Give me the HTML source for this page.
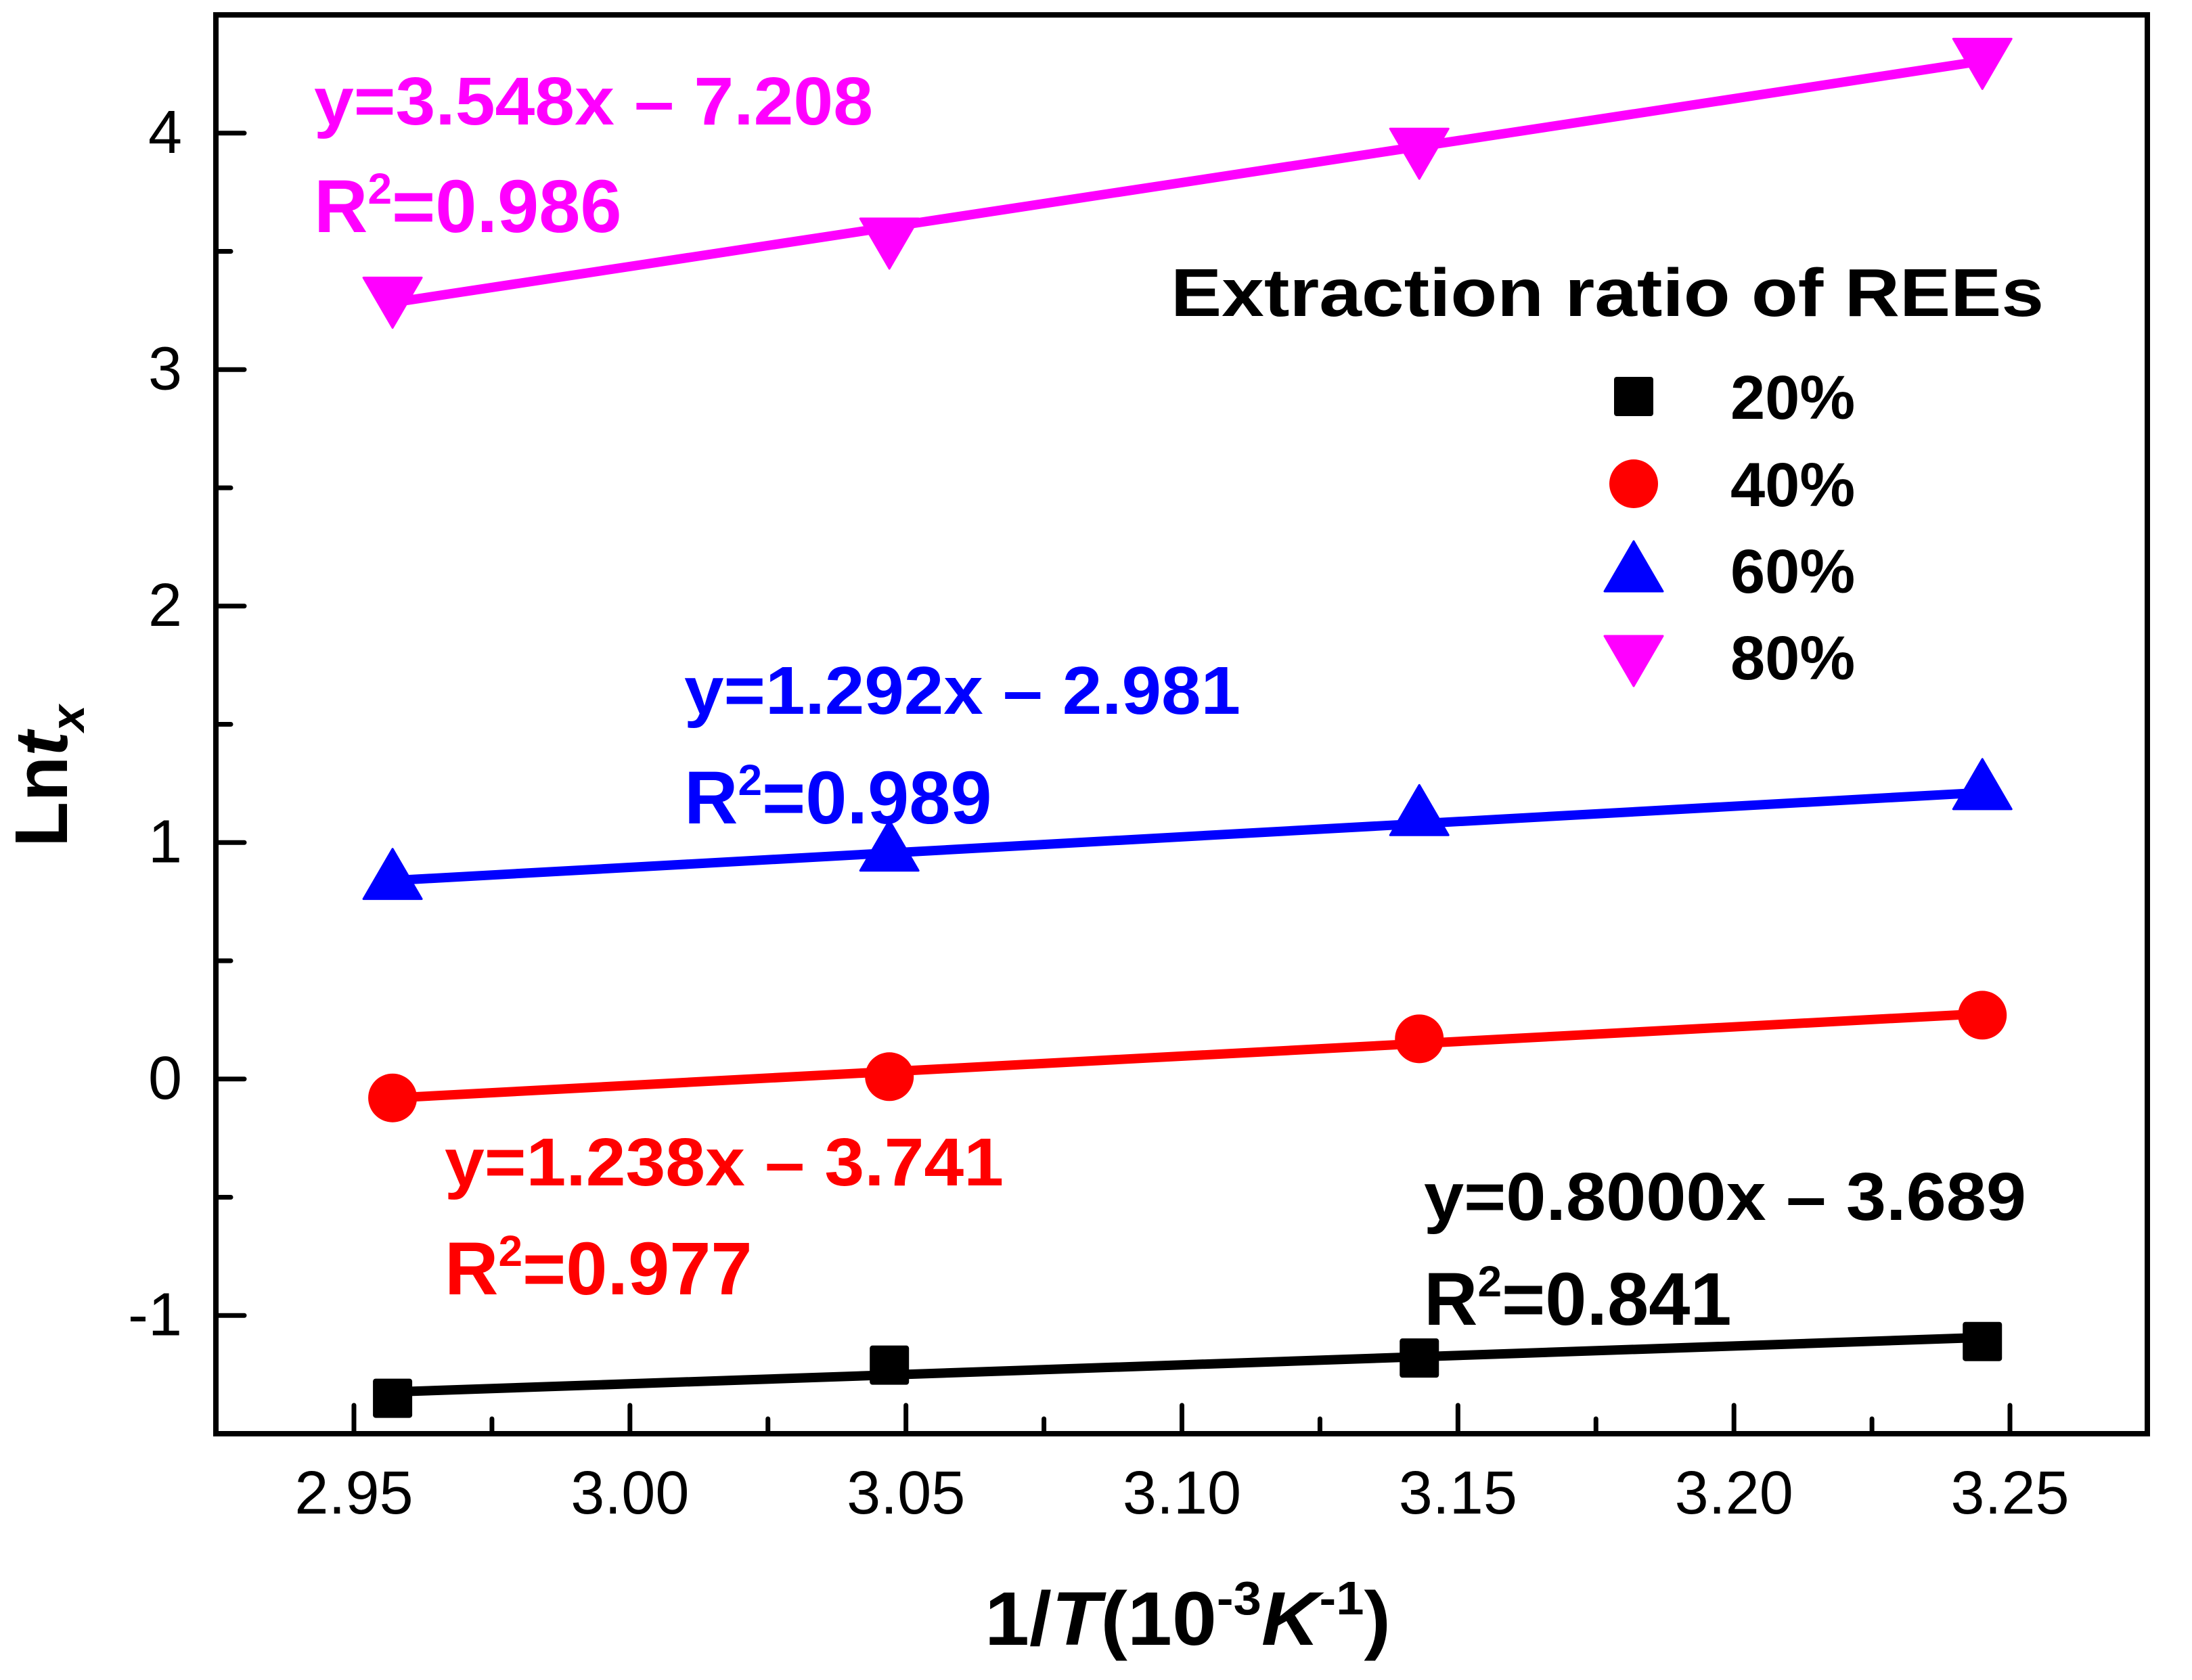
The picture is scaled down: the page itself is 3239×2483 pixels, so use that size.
<!DOCTYPE html>
<html><head><meta charset="utf-8"><style>
html,body{margin:0;padding:0;background:#fff}
svg{display:block}
text{font-family:"Liberation Sans",Arial,sans-serif}
</style></head><body>
<svg id="chart" width="3239" height="2483" viewBox="0 0 3239 2483" xmlns="http://www.w3.org/2000/svg">
<rect x="0" y="0" width="3239" height="2483" fill="#fff"/>
<g id="marks"></g>
<rect x="319" y="22" width="2854" height="2097" fill="none" stroke="#000" stroke-width="8"/>
<g id="ticks"></g>
<text x="1455" y="2431" font-size="112" font-weight="bold" textLength="600" lengthAdjust="spacingAndGlyphs">1/<tspan font-style="italic">T</tspan>(10<tspan dy="-45" font-size="70">-3</tspan><tspan dy="45" font-style="italic">K</tspan><tspan dy="-45" font-size="70">-1</tspan><tspan dy="45">)</tspan></text>
<text transform="translate(99,1252) rotate(-90)" font-size="110" font-weight="bold">Ln<tspan font-style="italic">t</tspan><tspan dy="25" font-size="70" font-style="italic">x</tspan></text>
<text x="1730" y="467" font-size="100" font-weight="bold" textLength="1290" lengthAdjust="spacingAndGlyphs">Extraction ratio of REEs</text>
<g id="legend"></g>
<g font-weight="bold" font-size="100">
<text x="464" y="184" fill="#ff00ff" textLength="826" lengthAdjust="spacingAndGlyphs">y=3.548x – 7.208</text>
<text x="464" y="343" fill="#ff00ff" font-size="110">R<tspan dy="-42" font-size="64">2</tspan><tspan dy="42">=0.986</tspan></text>
<text x="1011" y="1055" fill="#0000ff" textLength="822" lengthAdjust="spacingAndGlyphs">y=1.292x – 2.981</text>
<text x="1011" y="1217" fill="#0000ff" font-size="110">R<tspan dy="-42" font-size="64">2</tspan><tspan dy="42">=0.989</tspan></text>
<text x="657" y="1752" fill="#ff0000" textLength="826" lengthAdjust="spacingAndGlyphs">y=1.238x – 3.741</text>
<text x="657" y="1913" fill="#ff0000" font-size="110">R<tspan dy="-42" font-size="64">2</tspan><tspan dy="42">=0.977</tspan></text>
<text x="2104" y="1803" fill="#000" textLength="890" lengthAdjust="spacingAndGlyphs">y=0.8000x – 3.689</text>
<text x="2104" y="1958" fill="#000" font-size="110">R<tspan dy="-42" font-size="64">2</tspan><tspan dy="42">=0.841</tspan></text>
</g>
</svg>
<script>
const xValues = [2.957, 3.047, 3.143, 3.245];
const series20 = [-1.35, -1.21, -1.18, -1.11];
const series40 = [-0.08, 0.01, 0.17, 0.27];
const series60 = [0.85, 0.97, 1.12, 1.23];
const series80 = [3.30, 3.55, 3.93, 4.31];
const slopes = [0.8000, 1.238, 1.292, 3.548];
const intercepts = [-3.689, -3.741, -2.981, -7.208];
const seriesLabels = ["20%", "40%", "60%", "80%"];
const xTicks = [2.95, 3.00, 3.05, 3.10, 3.15, 3.20, 3.25];
const xTickLabels = ["2.95", "3.00", "3.05", "3.10", "3.15", "3.20", "3.25"];
const yTicks = [-1, 0, 1, 2, 3, 4];
const yTickLabels = ["-1", "0", "1", "2", "3", "4"];

const NS = "http://www.w3.org/2000/svg";
const X0 = 319, X1 = 3173, Y0 = 2119, Y1 = 22;
const xMin = 2.95 - 204/8157, xMax = 3.25 + 203/8157;
const yMin = -1.5, yMax = 4.5;
function sx(v){ return X0 + (v - xMin) / (xMax - xMin) * (X1 - X0); }
function sy(v){ return Y0 - (v - yMin) / (yMax - yMin) * (Y0 - Y1); }
function mk(tag, attrs, parent){ const e = document.createElementNS(NS, tag); for (const k in attrs) e.setAttribute(k, attrs[k]); parent.appendChild(e); return e; }

const colors = ["#000000", "#ff0000", "#0000ff", "#ff00ff"];
const allSeries = [series20, series40, series60, series80];
const marks = document.getElementById("marks");
const ticks = document.getElementById("ticks");
const legend = document.getElementById("legend");

function marker(type, cx, cy, color, parent){
  let e;
  if (type === 0) { e = mk("rect", {x: cx-29, y: cy-29, width: 58, height: 58, rx: 4, fill: color}, parent); }
  else if (type === 1) { e = mk("circle", {cx: cx, cy: cy, r: 36, fill: color}, parent); }
  else if (type === 2) { e = mk("polygon", {points: `${cx-43},${cy+31} ${cx+43},${cy+31} ${cx},${cy-43}`, fill: color, "stroke-linejoin": "round", stroke: color, "stroke-width": 3}, parent); }
  else { e = mk("polygon", {points: `${cx-43},${cy-31} ${cx+43},${cy-31} ${cx},${cy+43}`, fill: color, "stroke-linejoin": "round", stroke: color, "stroke-width": 3}, parent); }
  return e;
}

for (let s = 0; s < 4; s++) {
  const g = mk("g", {}, marks);
  
  
  const xa = xValues[0], xb = xValues[xValues.length-1];
  const ln = mk("line", {x1: sx(xa), y1: sy(slopes[s]*xa + intercepts[s]), x2: sx(xb), y2: sy(slopes[s]*xb + intercepts[s]), stroke: colors[s], "stroke-width": 14}, g);
  
  
  for (let i = 0; i < xValues.length; i++) {
    const m = marker(s, sx(xValues[i]), sy(allSeries[s][i]), colors[s], g);
    
    
  }
}

for (let i = 0; i < xTicks.length; i++) {
  const x = sx(xTicks[i]);
  const t = mk("line", {x1: x, y1: Y0, x2: x, y2: Y0-42, stroke: "#000", "stroke-width": 7, "stroke-linecap": "round"}, ticks);
  
  
  const lb = mk("text", {x: x, y: 2237, "font-size": 90, "text-anchor": "middle"}, ticks);
  lb.textContent = xTickLabels[i];
  
  
  if (i < xTicks.length - 1) {
    const xm = sx(xTicks[i] + 0.025);
    const mt = mk("line", {x1: xm, y1: Y0, x2: xm, y2: Y0-22, stroke: "#000", "stroke-width": 7, "stroke-linecap": "round"}, ticks);
    
    
  }
}
for (let i = 0; i < yTicks.length; i++) {
  const y = sy(yTicks[i]);
  const t = mk("line", {x1: X0, y1: y, x2: X0+42, y2: y, stroke: "#000", "stroke-width": 7, "stroke-linecap": "round"}, ticks);
  
  
  const lb = mk("text", {x: 269, y: y + 29, "font-size": 90, "text-anchor": "end"}, ticks);
  lb.textContent = yTickLabels[i];
  
  
  const ym = sy(yTicks[i] - 0.5);
  const mt = mk("line", {x1: X0, y1: ym, x2: X0+22, y2: ym, stroke: "#000", "stroke-width": 7, "stroke-linecap": "round"}, ticks);
  
  
}
const legY = [586, 715, 843, 971];
for (let s = 0; s < 4; s++) {
  const g = mk("g", {}, legend);
  
  
  marker(s, 2414, legY[s], colors[s], g);
  const t = mk("text", {x: 2557, y: legY[s] + 33, "font-size": 92, "font-weight": "bold"}, g);
  t.textContent = seriesLabels[s];
}
</script>
</body></html>
